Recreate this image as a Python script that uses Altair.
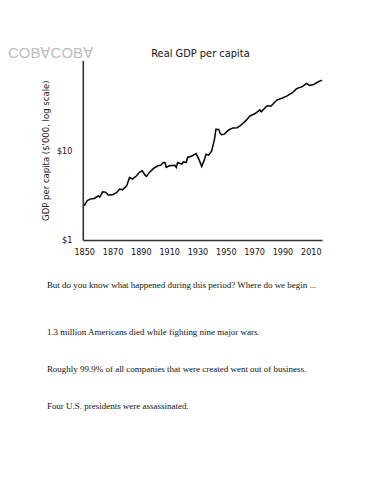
import altair as alt
import pandas as pd

years = [1850,1852,1854,1857,1860,1861,1863,1865,1867,1870,1873,1875,1877,1880,1882,1884,1887,1889,1891,1893,1894,1896,1899,1902,1904,1906,1907,1908,1910,1914,1915,1916,1919,1920,1922,1923,1926,1928,1929,1931,1933,1935,1936,1938,1940,1942,1943,1945,1946,1947,1949,1952,1955,1958,1960,1964,1967,1971,1974,1975,1979,1982,1986,1990,1993,1997,2000,2004,2007,2009,2012,2015,2018]
gdp = [2.40,2.73,2.85,2.90,3.10,3.00,3.44,3.40,3.16,3.18,3.38,3.69,3.62,4.00,4.97,4.76,5.18,5.66,5.89,5.27,5.10,5.66,6.26,6.70,6.80,7.30,7.30,6.43,6.70,6.80,6.43,7.30,7.00,7.40,7.30,8.30,8.60,9.00,9.20,7.90,6.60,7.90,9.00,8.80,9.80,13.2,17.1,17.0,15.4,14.9,15.1,16.8,17.7,17.8,18.6,21.2,24.0,25.8,28.1,26.8,31.1,31.0,36.2,38.2,40.1,43.7,48.5,51.0,55.5,52.7,53.9,57.5,60.4]

x_ticks = [1850,1870,1890,1910,1930,1950,1970,1990,2010]
y_ticks = [1, 10]

chart_title = "Real GDP per capita"
y_title = "GDP per capita ($'000, log scale)"
watermark = "COB\u2200COB\u2200"
notes = [
    "But do you know what happened during this period? Where do we begin ...",
    "1.3 million Americans died while fighting nine major wars.",
    "Roughly 99.9% of all companies that were created went out of business.",
    "Four U.S. presidents were assassinated.",
]

df = pd.DataFrame({"year": years, "gdp": gdp})

NARROW = "DejaVu Sans Condensed, Roboto"

line = alt.Chart(df).mark_line(color="black", strokeWidth=1.5).encode(
    x=alt.X("year:Q", scale=alt.Scale(domain=[1849, 2018], nice=False, zero=False),
            axis=alt.Axis(values=x_ticks, format="d", title=None, grid=False, ticks=False,
                          labelPadding=8, labelFontSize=9, labelFont=NARROW,
                          labelColor="#111", domainColor="#333", domainWidth=1.6,
                          labelFlush=False)),
    y=alt.Y("gdp:Q", scale=alt.Scale(type="log", domain=[1, 100], nice=False),
            axis=alt.Axis(values=y_ticks, labelExpr="'$' + datum.value", title=y_title,
                          grid=False, ticks=False, labelPadding=11, labelFontSize=9,
                          labelFont=NARROW, labelColor="#111", titleFont=NARROW,
                          titleFontSize=9.5, titleFontWeight="normal", titleColor="#222",
                          titlePadding=6, domainColor="#333", domainWidth=1.6)),
)

title_mark = alt.Chart().mark_text(font=NARROW, fontSize=11, color="#111", align="center",
                                   baseline="alphabetic").encode(
    x=alt.value(118), y=alt.value(-3.5), text=alt.value(chart_title))

wm = alt.Chart().mark_text(font="Liberation Sans, DejaVu Sans", fontSize=15, color="#bdbdbd",
                           align="left", baseline="alphabetic").encode(
    x=alt.value(-75), y=alt.value(-2), text=alt.value(watermark))

note_y = [228.5, 275, 312.5, 349.5]
note_marks = [
    alt.Chart().mark_text(font="Liberation Serif", fontSize=9, color="#111", align="left",
                          baseline="alphabetic").encode(
        x=alt.value(-36), y=alt.value(yy), text=alt.value(t))
    for t, yy in zip(notes, note_y)
]

chart = alt.layer(line, title_mark, wm, *note_marks).properties(
    width=240, height=180,
    autosize=alt.AutoSizeParams(type="none"),
    padding={"left": 75, "top": 52, "right": 40, "bottom": 190},
).configure_view(stroke=None)

chart.save("out.html", embed_options={"renderer": "svg", "actions": False})
